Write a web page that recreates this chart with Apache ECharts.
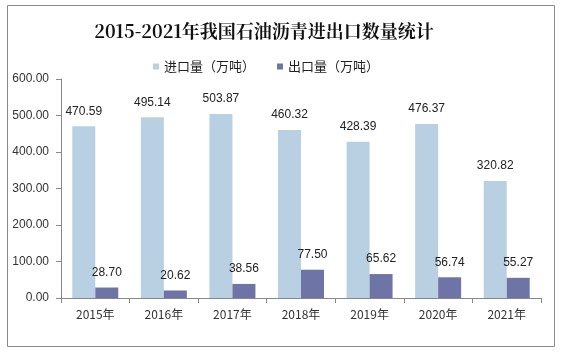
<!DOCTYPE html>
<html><head><meta charset="utf-8">
<script src="https://cdn.jsdelivr.net/npm/echarts@6/dist/echarts.min.js"></script>
<style>html,body{margin:0;padding:0;background:#fff}#c{width:563px;height:356px}</style>
</head><body><div id="c"></div>
<script>
const categories = ['2015年','2016年','2017年','2018年','2019年','2020年','2021年'];
const importVals = [470.59, 495.14, 503.87, 460.32, 428.39, 476.37, 320.82];
const exportVals = [28.70, 20.62, 38.56, 77.50, 65.62, 56.74, 55.27];
const seriesNames = ['进口量（万吨）','出口量（万吨）'];
const chart = echarts.init(document.getElementById('c'));
chart.setOption({
  animation:false,
  backgroundColor:'#fff',
  graphic:[{type:'rect',shape:{x:7.5,y:5.5,width:547,height:341},style:{fill:'none',stroke:'#8a8a8a',lineWidth:1}}],
  title:{text:'2015-2021年我国石油沥青进出口数量统计',left:259,textAlign:'center',top:17,
    textStyle:{fontFamily:'"Noto Serif CJK SC","Noto Sans CJK SC",serif',fontWeight:'bold',fontSize:18,color:'#111'}},
  legend:{top:55,left:148,itemWidth:6,itemHeight:6,itemGap:22,icon:'rect',
    textStyle:{fontFamily:'"Noto Sans CJK SC",sans-serif',fontSize:13,color:'#222'},data:seriesNames},
  grid:{left:61,right:22,top:79,bottom:58},
  xAxis:{type:'category',data:categories,
    axisLine:{lineStyle:{color:'#888'}},axisTick:{show:true,alignWithLabel:false,lineStyle:{color:'#888'}},
    axisLabel:{color:'#333',fontSize:12,margin:10,fontFamily:'"Noto Sans CJK SC",sans-serif'}},
  yAxis:{type:'value',min:0,max:600,interval:100,
    axisLine:{show:true,lineStyle:{color:'#888'}},axisTick:{show:true,lineStyle:{color:'#888'}},
    splitLine:{show:false},
    axisLabel:{color:'#333',fontSize:12,margin:12,fontFamily:'Arial,"Liberation Sans",sans-serif',formatter:v=>v.toFixed(2)}},
  series:[
    {name:seriesNames[0],type:'bar',data:importVals,barWidth:23,barGap:'0%',
     itemStyle:{color:'#b9cfe2'},
     label:{show:true,position:'top',distance:9,color:'#222',fontSize:12,fontFamily:'Arial,"Liberation Sans",sans-serif',formatter:p=>p.value.toFixed(2)}},
    {name:seriesNames[1],type:'bar',data:exportVals,barWidth:23,
     itemStyle:{color:'#6e74a6'},
     label:{show:true,position:'top',distance:9,color:'#222',fontSize:12,fontFamily:'Arial,"Liberation Sans",sans-serif',formatter:p=>p.value.toFixed(2)}}
  ]
});
</script></body></html>
